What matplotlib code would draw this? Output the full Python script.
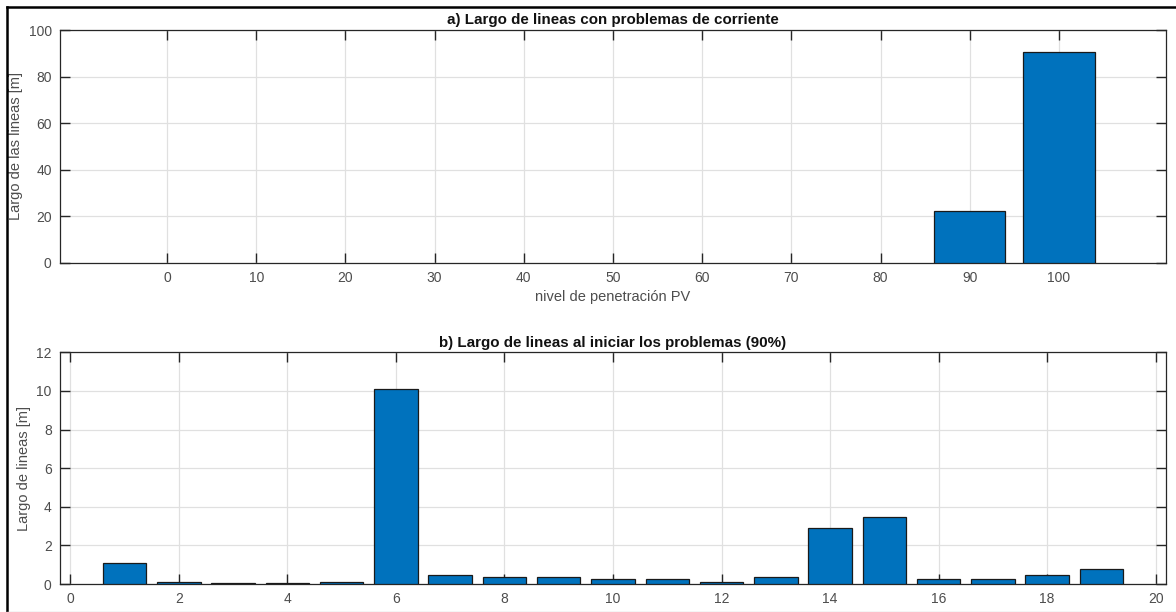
import numpy as np
import matplotlib
matplotlib.use("Agg")
import matplotlib.pyplot as plt
from matplotlib.lines import Line2D

plt.rcParams["font.family"] = ["Liberation Sans", "DejaVu Sans"]

# a) largo de lineas con problemas vs nivel de penetracion
penetracion = [90, 100]
largo_pen = [22.2, 90.4]

# b) largo de lineas al 90%
lineas = list(range(1, 20))
largo_lineas = [1.09, 0.09, 0.05, 0.05, 0.1, 10.1, 0.45, 0.35, 0.35, 0.24,
                0.24, 0.12, 0.35, 2.89, 3.47, 0.24, 0.24, 0.45, 0.78]

bar_color = "#0072BD"
txt_gray = "#4d4d4d"
axis_col = "#262626"

fig = plt.figure(figsize=(11.76, 6.12), dpi=100)
fig.patch.set_facecolor("white")

ax1 = fig.add_axes([60/1176, 1-263/612, 1106/1176, 233/612])
ax2 = fig.add_axes([60/1176, 1-584/612, 1106/1176, 231.7/612])


def matlab_style(ax):
    ax.set_axisbelow(True)
    ax.grid(True, color="#e0e0e0", linewidth=0.9)
    ax.tick_params(direction="in", length=7, width=1, top=True, right=True,
                   colors=axis_col, labelcolor=txt_gray, labelsize=10, pad=6)
    for s in ax.spines.values():
        s.set_color(axis_col)
        s.set_linewidth(0.9)


ax1.bar(penetracion, largo_pen, width=8, color=bar_color, edgecolor="#1a1a1a",
        linewidth=0.9, zorder=3)
ax1.set_xlim(-12, 112)
ax1.set_ylim(0, 100)
ax1.set_xticks(np.arange(0, 101, 10))
ax1.set_yticks(np.arange(0, 101, 20))
matlab_style(ax1)
ax1.set_title("a) Largo de lineas con problemas de corriente", fontsize=10.9,
              fontweight="bold", color="#111111", pad=4)
ax1.set_xlabel("nivel de penetración PV", fontsize=10.5, color=txt_gray, labelpad=3)
ax1.set_ylabel("Largo de las lineas [m]", fontsize=10.5, color=txt_gray, labelpad=4)

ax2.bar(lineas, largo_lineas, width=0.8, color=bar_color, edgecolor="#1a1a1a",
        linewidth=0.9, zorder=3)
ax2.set_xlim(-0.19, 20.19)
ax2.set_ylim(0, 12)
ax2.set_xticks(np.arange(0, 21, 2))
ax2.set_yticks(np.arange(0, 13, 2))
matlab_style(ax2)
ax2.set_title("b) Largo de lineas al iniciar los problemas (90%)", fontsize=10.9,
              fontweight="bold", color="#111111", pad=4)
ax2.set_ylabel("Largo de lineas [m]", fontsize=10.5, color=txt_gray, labelpad=4)

# outer frame of the figure window
fx, fy = 7/1176, 1 - 7/612
fig.add_artist(Line2D([fx, 1.0], [fy, fy], color="black", linewidth=1.8,
                      transform=fig.transFigure))
fig.add_artist(Line2D([fx, fx], [0.0, fy], color="black", linewidth=1.8,
                      transform=fig.transFigure))
fig.add_artist(Line2D([fx, 1.0], [0.5/612, 0.5/612], color="#d0d0d0",
                      linewidth=1, transform=fig.transFigure))

fig.savefig("out.png", dpi=100)
